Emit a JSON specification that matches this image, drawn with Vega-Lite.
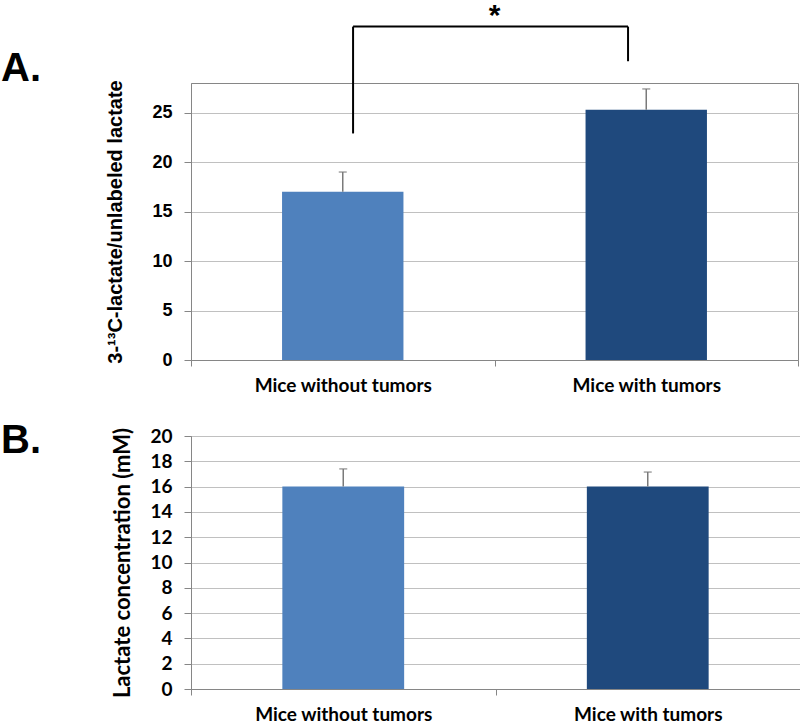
{
  "$schema": "https://vega.github.io/schema/vega-lite/v6.json",
  "padding": 0,
  "autosize": {"type": "pad"},
  "background": "white",
  "spacing": 24,
  "datasets": {
    "A": [
      {"group": "Mice without tumors", "value": 17.0, "upper": 19.0},
      {"group": "Mice with tumors", "value": 25.3, "upper": 27.4}
    ],
    "B": [
      {"group": "Mice without tumors", "value": 16.0, "upper": 17.4},
      {"group": "Mice with tumors", "value": 16.0, "upper": 17.15}
    ],
    "bracket": [
      {"from": "Mice without tumors", "to": "Mice with tumors", "left_low": 22.9, "right_low": 30.2, "top": 33.7, "label": "*", "label_y": 34.8}
    ]
  },
  "vconcat": [
    {
      "width": 607,
      "height": 277,
      "title": {"text": "A.", "anchor": "start", "frame": "group", "font": "Liberation Sans", "fontSize": 40, "fontWeight": "bold", "color": "black", "dx": -190, "dy": 88, "offset": 0},
      "layer": [
        {
          "data": {"name": "A"},
          "mark": {"type": "bar", "width": {"band": 0.4}},
          "encoding": {
            "x": {"field": "group", "type": "nominal", "sort": null,
              "scale": {"domain": ["Mice without tumors", "Mice with tumors"], "paddingInner": 0, "paddingOuter": 0},
              "axis": {"title": null, "labelAngle": 0, "tickBand": "extent", "tickSize": 6, "tickColor": "#868686", "domainColor": "#868686", "labelFont": "Lato", "labelFontWeight": "bold", "labelFontSize": 19, "labelColor": "black", "labelPadding": 10, "grid": false}},
            "y": {"field": "value", "type": "quantitative",
              "scale": {"domain": [0, 28], "nice": false},
              "axis": {"title": "3-¹³C-lactate/unlabeled lactate", "titleFont": "Liberation Sans", "titleFontSize": 20, "titleFontWeight": "bold", "titleColor": "black", "titlePadding": 26, "values": [0, 5, 10, 15, 20, 25], "format": "d", "tickCount": 20, "labelFont": "Liberation Sans", "labelFontSize": 18, "labelFontWeight": "bold", "labelColor": "black", "labelPadding": 12, "labelOverlap": false, "tickSize": 7, "tickColor": "#868686", "domainColor": "#868686", "grid": true, "gridColor": "#c0c0c0"}},
            "color": {"field": "group", "type": "nominal", "sort": null, "scale": {"domain": ["Mice without tumors", "Mice with tumors"], "range": ["#4F81BD", "#1F497D"]}, "legend": null}
          }
        },
        {
          "data": {"name": "A"},
          "mark": {"type": "rule", "color": "#7a7a7a", "strokeWidth": 1.5},
          "encoding": {
            "x": {"field": "group", "type": "nominal", "sort": null},
            "y": {"field": "value", "type": "quantitative"},
            "y2": {"field": "upper"}
          }
        },
        {
          "data": {"name": "A"},
          "mark": {"type": "tick", "color": "#7a7a7a", "size": 8, "thickness": 1.5},
          "encoding": {
            "x": {"field": "group", "type": "nominal", "sort": null},
            "y": {"field": "upper", "type": "quantitative"}
          }
        },
        {
          "data": {"name": "bracket"},
          "mark": {"type": "rule", "color": "black", "strokeWidth": 2},
          "encoding": {
            "x": {"field": "from", "type": "nominal", "bandPosition": 0.534},
            "y": {"field": "left_low", "type": "quantitative"},
            "y2": {"field": "top"}
          }
        },
        {
          "data": {"name": "bracket"},
          "mark": {"type": "rule", "color": "black", "strokeWidth": 2},
          "encoding": {
            "x": {"field": "to", "type": "nominal", "bandPosition": 0.44},
            "y": {"field": "right_low", "type": "quantitative"},
            "y2": {"field": "top"}
          }
        },
        {
          "data": {"name": "bracket"},
          "mark": {"type": "rule", "color": "black", "strokeWidth": 2},
          "encoding": {
            "x": {"field": "from", "type": "nominal", "bandPosition": 0.534},
            "x2": {"field": "to", "bandPosition": 0.44},
            "y": {"field": "top", "type": "quantitative"}
          }
        },
        {
          "data": {"name": "bracket"},
          "mark": {"type": "text", "font": "Liberation Sans", "fontSize": 30, "fontWeight": "bold", "color": "black", "baseline": "middle", "align": "center"},
          "encoding": {
            "x": {"field": "from", "type": "nominal", "bandPosition": 1},
            "y": {"field": "label_y", "type": "quantitative"},
            "text": {"field": "label"}
          }
        }
      ]
    },
    {
      "width": 609,
      "height": 253,
      "title": {"text": "B.", "anchor": "start", "frame": "group", "font": "Liberation Sans", "fontSize": 40, "fontWeight": "bold", "color": "black", "dx": -190, "dy": 34, "offset": 0},
      "layer": [
        {
          "data": {"name": "B"},
          "mark": {"type": "bar", "width": {"band": 0.4}},
          "encoding": {
            "x": {"field": "group", "type": "nominal", "sort": null,
              "scale": {"domain": ["Mice without tumors", "Mice with tumors"], "paddingInner": 0, "paddingOuter": 0},
              "axis": {"title": null, "labelAngle": 0, "tickBand": "extent", "tickSize": 6, "tickColor": "#868686", "domainColor": "#868686", "labelFont": "Lato", "labelFontWeight": "bold", "labelFontSize": 19, "labelColor": "black", "labelPadding": 10, "grid": false}},
            "y": {"field": "value", "type": "quantitative",
              "scale": {"domain": [0, 20], "nice": false},
              "axis": {"title": "Lactate concentration (mM)", "titleFont": "Lato", "titleFontSize": 22, "titleFontWeight": "bold", "titleColor": "black", "titlePadding": 15, "values": [0, 2, 4, 6, 8, 10, 12, 14, 16, 18, 20], "format": "d", "tickCount": 30, "labelFont": "Lato", "labelFontSize": 19, "labelFontWeight": "bold", "labelColor": "black", "labelPadding": 12, "labelOverlap": false, "tickSize": 7, "tickColor": "#868686", "domainColor": "#868686", "grid": true, "gridColor": "#c0c0c0"}},
            "color": {"field": "group", "type": "nominal", "sort": null, "scale": {"domain": ["Mice without tumors", "Mice with tumors"], "range": ["#4F81BD", "#1F497D"]}, "legend": null}
          }
        },
        {
          "data": {"name": "B"},
          "mark": {"type": "rule", "color": "#7a7a7a", "strokeWidth": 1.5},
          "encoding": {
            "x": {"field": "group", "type": "nominal", "sort": null},
            "y": {"field": "value", "type": "quantitative"},
            "y2": {"field": "upper"}
          }
        },
        {
          "data": {"name": "B"},
          "mark": {"type": "tick", "color": "#7a7a7a", "size": 8, "thickness": 1.5},
          "encoding": {
            "x": {"field": "group", "type": "nominal", "sort": null},
            "y": {"field": "upper", "type": "quantitative"}
          }
        }
      ]
    }
  ],
  "config": {
    "view": {"stroke": "#868686", "strokeWidth": 1},
    "axis": {"domainWidth": 1, "tickWidth": 1, "gridWidth": 1}
  }
}
